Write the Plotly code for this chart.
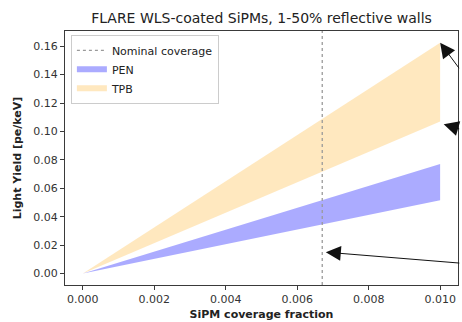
import plotly.graph_objects as go

# SiPM coverage fraction (endpoints of each band)
coverage = [0.0, 0.010]

# Light yield bands [pe/keV] spanning 1% to 50% wall reflectivity
pen_low = [0.0, 0.0515]
pen_high = [0.0, 0.0770]
tpb_low = [0.0, 0.1070]
tpb_high = [0.0, 0.1625]

nominal_coverage = 0.0067

x_ticks = [0.000, 0.002, 0.004, 0.006, 0.008, 0.010]
y_ticks = [0.00, 0.02, 0.04, 0.06, 0.08, 0.10, 0.12, 0.14, 0.16]

FONT = "DejaVu Sans"
AXIS_COLOR = "#3a3a3a"

fig = go.Figure()

# PEN band
fig.add_trace(go.Scatter(x=coverage, y=pen_low, mode="lines",
                         line=dict(width=0, color="rgba(0,0,255,0.33)"),
                         showlegend=False, hoverinfo="skip"))
fig.add_trace(go.Scatter(x=coverage, y=pen_high, mode="none", fill="tonexty",
                         fillcolor="rgba(0,0,255,0.33)", name="PEN", legendrank=2))

# TPB band
fig.add_trace(go.Scatter(x=coverage, y=tpb_low, mode="lines",
                         line=dict(width=0, color="rgba(255,165,0,0.25)"),
                         showlegend=False, hoverinfo="skip"))
fig.add_trace(go.Scatter(x=coverage, y=tpb_high, mode="none", fill="tonexty",
                         fillcolor="rgba(255,165,0,0.25)", name="TPB", legendrank=3))

# Nominal coverage marker spanning the full axes height
fig.add_shape(type="line", xref="x", yref="y domain",
              x0=nominal_coverage, x1=nominal_coverage, y0=0, y1=1,
              line=dict(color="#9a9a9a", width=1.3, dash="dot"),
              showlegend=True, name="Nominal coverage", legendrank=1)

# Arrows pointing into the plot from the right edge (tail offsets in px)
arrows = [
    (coverage[-1], tpb_high[-1], 20, 27),
    (coverage[-1] + 0.0001, tpb_low[-1] - 0.002, 17, 5),
    (nominal_coverage + 0.0001, 0.015, 135, 11),
]
for ax_x, ax_y, dx, dy in arrows:
    fig.add_annotation(x=ax_x, y=ax_y, xref="x", yref="y", text="",
                       showarrow=True, arrowhead=2, arrowsize=3,
                       arrowwidth=1, arrowcolor="#111111",
                       ax=dx, ay=dy, standoff=0)

fig.update_layout(
    width=462, height=322,
    margin=dict(l=65, r=4, t=31, b=37),
    paper_bgcolor="white", plot_bgcolor="white",
    font=dict(family=FONT, size=11, color="#333333"),
    title=dict(text="FLARE WLS-coated SiPMs, 1-50% reflective walls",
               x=0.566, xanchor="center", yref="container",
               y=1 - 18 / 322, yanchor="middle",
               font=dict(family=FONT, size=14, color="#222222")),
    legend=dict(x=0.015, y=0.985, xanchor="left", yanchor="top",
                traceorder="normal",
                bgcolor="rgba(255,255,255,0.8)", bordercolor="#cccccc",
                borderwidth=1, font=dict(size=11, color="#222222"),
                tracegroupgap=0, itemwidth=30),
    showlegend=True,
)

fig.update_xaxes(
    range=[-0.0005, 0.0105], tickvals=x_ticks, tickformat=".3f",
    showgrid=False, zeroline=False, showline=True, mirror=True,
    linecolor=AXIS_COLOR, linewidth=1, ticks="outside", ticklen=4,
    tickcolor=AXIS_COLOR,
    title=dict(text="<b>SiPM coverage fraction</b>", standoff=5,
               font=dict(size=11, color="#222222")),
)
fig.update_yaxes(
    range=[-0.0081, 0.1707], tickvals=y_ticks, tickformat=".2f",
    showgrid=False, zeroline=False, showline=True, mirror=True,
    linecolor=AXIS_COLOR, linewidth=1, ticks="outside", ticklen=4,
    tickcolor=AXIS_COLOR,
    title=dict(text="<b>Light Yield [pe/keV]</b>", standoff=9,
               font=dict(size=11, color="#222222")),
)

fig.write_html("out.html")
